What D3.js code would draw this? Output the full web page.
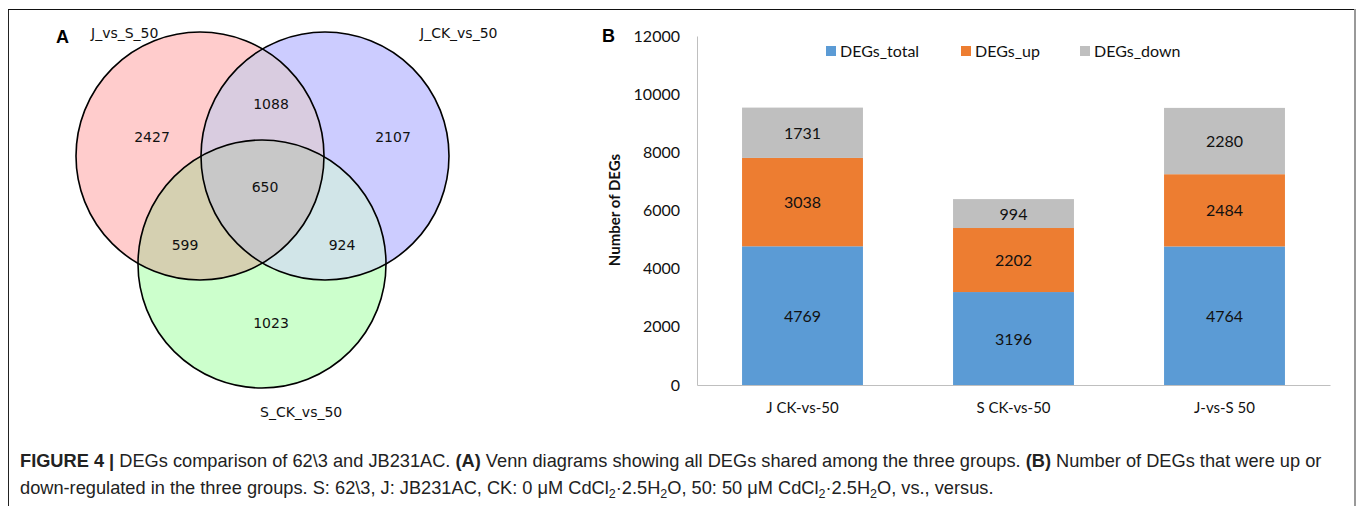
<!DOCTYPE html>
<html>
<head>
<meta charset="utf-8">
<title>Figure 4</title>
<style>
  body { margin: 0; background: #fff; }
  svg { display: block; }
</style>
<script src="https://d3js.org/d3.v7.min.js"></script>
</head>
<body>
<svg id="fig" width="1360" height="506"></svg>
<script>
// ---- data ----
var vennSets = ["J_vs_S_50", "J_CK_vs_50", "S_CK_vs_50"];
var vennOnly = [2427, 2107, 1023];          // A only, B only, C only
var vennPairs = [1088, 599, 924];           // AB, AC, BC
var vennAll = 650;

var categories = ["J CK-vs-50", "S CK-vs-50", "J-vs-S 50"];
var degsTotal = [4769, 3196, 4764];
var degsUp = [3038, 2202, 2484];
var degsDown = [1731, 994, 2280];
var seriesNames = ["DEGs_total", "DEGs_up", "DEGs_down"];
var yTicks = [0, 2000, 4000, 6000, 8000, 10000, 12000];

var svg = d3.select("#fig");

// frame
svg.append("line").attr("x1", 8.5).attr("y1", 9).attr("x2", 8.5).attr("y2", 506).attr("stroke", "#222");
svg.append("line").attr("x1", 8).attr("y1", 9.5).attr("x2", 1355).attr("y2", 9.5).attr("stroke", "#111");
svg.append("line").attr("x1", 1355).attr("y1", 9).attr("x2", 1355).attr("y2", 506).attr("stroke", "#999").attr("stroke-width", 2);

// ---- panel A : venn ----
var r = 124;
var circles = [
  {cx: 200, cy: 156, fill: "#ffcccc"},
  {cx: 325, cy: 156, fill: "#ccccff"},
  {cx: 262, cy: 264, fill: "#ccffcc"}
];
var defs = svg.append("defs");
circles.forEach(function(c, i) {
  defs.append("clipPath").attr("id", "clip" + i)
    .append("circle").attr("cx", c.cx).attr("cy", c.cy).attr("r", r);
});
// nested clip for the triple region
defs.append("clipPath").attr("id", "clipAB")
  .attr("clip-path", "url(#clip0)")
  .append("circle").attr("cx", circles[1].cx).attr("cy", circles[1].cy).attr("r", r);

var venn = svg.append("g");
circles.forEach(function(c) {
  venn.append("circle").attr("cx", c.cx).attr("cy", c.cy).attr("r", r).attr("fill", c.fill);
});
// pair overlaps
venn.append("circle").attr("cx", circles[1].cx).attr("cy", circles[1].cy).attr("r", r)
  .attr("clip-path", "url(#clip0)").attr("fill", "#d9cce0");
venn.append("circle").attr("cx", circles[2].cx).attr("cy", circles[2].cy).attr("r", r)
  .attr("clip-path", "url(#clip0)").attr("fill", "#d5d0b1");
venn.append("circle").attr("cx", circles[2].cx).attr("cy", circles[2].cy).attr("r", r)
  .attr("clip-path", "url(#clip1)").attr("fill", "#d1e5e8");
var tri = venn.append("g").attr("clip-path", "url(#clipAB)");
tri.append("circle").attr("cx", circles[2].cx).attr("cy", circles[2].cy).attr("r", r)
  .attr("clip-path", "url(#clip2)").attr("fill", "#c8c8c8");
circles.forEach(function(c) {
  venn.append("circle").attr("cx", c.cx).attr("cy", c.cy).attr("r", r)
    .attr("fill", "none").attr("stroke", "#000").attr("stroke-width", 1.6);
});

var vennFont = "'DejaVu Sans', sans-serif";
var setLabelPos = [[91, 38], [420, 38], [260, 417]];
vennSets.forEach(function(s, i) {
  svg.append("text").attr("x", setLabelPos[i][0]).attr("y", setLabelPos[i][1])
    .attr("font-family", vennFont).attr("font-size", 14).attr("fill", "#111").text(s);
});
var onlyPos = [[152, 137], [393, 137], [271, 323]];
var pairPos = [[271, 104], [185, 245], [342, 245]];
function vennNum(p, v) {
  svg.append("text").attr("x", p[0]).attr("y", p[1] + 5).attr("text-anchor", "middle")
    .attr("font-family", vennFont).attr("font-size", 14).attr("fill", "#111").text(v);
}
vennOnly.forEach(function(v, i) { vennNum(onlyPos[i], v); });
vennPairs.forEach(function(v, i) { vennNum(pairPos[i], v); });
vennNum([265, 187], vennAll);

svg.append("text").attr("x", 56).attr("y", 43).attr("font-family", "'Liberation Sans', Arial, sans-serif")
  .attr("font-weight", "bold").attr("font-size", 18).text("A");

// ---- panel B : stacked bars ----
var chartFont = "Lato, 'Open Sans', sans-serif";
svg.append("text").attr("x", 602).attr("y", 42).attr("font-family", "'Liberation Sans', Arial, sans-serif")
  .attr("font-weight", "bold").attr("font-size", 18).text("B");

var y = d3.scaleLinear().domain([0, 12000]).range([385, 36]);
var x = d3.scaleBand().domain(categories).range([697, 1330]).paddingInner(0.427).paddingOuter(0.2135);
var color = d3.scaleOrdinal().domain(seriesNames).range(["#5b9bd5", "#ed7d31", "#bfbfbf"]);

var rows = categories.map(function(c, i) {
  return {cat: c, DEGs_total: degsTotal[i], DEGs_up: degsUp[i], DEGs_down: degsDown[i]};
});
var stacked = d3.stack().keys(seriesNames)(rows);

var gB = svg.append("g");
stacked.forEach(function(layer) {
  gB.append("g").selectAll("rect").data(layer).join("rect")
    .attr("x", function(d) { return x(d.data.cat); })
    .attr("width", x.bandwidth())
    .attr("y", function(d) { return y(d[1]); })
    .attr("height", function(d) { return y(d[0]) - y(d[1]); })
    .attr("fill", color(layer.key));
  gB.append("g").selectAll("text").data(layer).join("text")
    .attr("x", function(d) { return x(d.data.cat) + x.bandwidth() / 2; })
    .attr("y", function(d) { return (y(d[0]) + y(d[1])) / 2 + 6; })
    .attr("text-anchor", "middle").attr("font-family", chartFont).attr("font-size", 16)
    .attr("fill", "#111")
    .text(function(d) { return d[1] - d[0]; });
});

// y axis
var yAxis = gB.append("g").attr("transform", "translate(697,0)")
  .call(d3.axisLeft(y).tickValues(yTicks).tickFormat(d3.format("d")).tickSize(0).tickPadding(17));
yAxis.select(".domain").attr("stroke", "#bfbfbf");
yAxis.selectAll("text").attr("font-family", chartFont).attr("font-size", 16).attr("fill", "#111");

// x axis
var xAxis = gB.append("g").attr("transform", "translate(0,385)")
  .call(d3.axisBottom(x).tickSize(0).tickPadding(17));
xAxis.select(".domain").attr("stroke", "#bfbfbf");
xAxis.selectAll("text").attr("font-family", chartFont).attr("font-size", 15).attr("fill", "#111");

gB.append("text").attr("transform", "translate(620,210) rotate(-90)").attr("text-anchor", "middle")
  .attr("font-family", chartFont).attr("font-weight", "bold").attr("font-size", 15).attr("fill", "#111")
  .text("Number of DEGs");

// legend
var legX = [826, 961, 1080];
seriesNames.forEach(function(s, i) {
  gB.append("rect").attr("x", legX[i]).attr("y", 46).attr("width", 10).attr("height", 10).attr("fill", color(s));
  gB.append("text").attr("x", legX[i] + 14).attr("y", 57).attr("font-family", chartFont)
    .attr("font-size", 16).attr("fill", "#111").text(s);
});

// ---- caption (condensed type) ----
var capFont = "'Liberation Sans', Arial, sans-serif";
var capSize = 17.5;
var cap = svg.append("g");
var cap1 = cap.append("text").attr("x", 0).attr("y", 467).attr("font-family", capFont)
  .attr("font-size", capSize).attr("fill", "#222");
cap1.append("tspan").attr("font-weight", "bold").text("FIGURE 4 | ");
cap1.append("tspan").text("DEGs comparison of 62\\3 and JB231AC. ");
cap1.append("tspan").attr("font-weight", "bold").text("(A)");
cap1.append("tspan").text(" Venn diagrams showing all DEGs shared among the three groups. ");
cap1.append("tspan").attr("font-weight", "bold").text("(B)");
cap1.append("tspan").text(" Number of DEGs that were up or");

var cap2 = cap.append("text").attr("x", 0).attr("y", 494).attr("font-family", capFont)
  .attr("font-size", capSize).attr("fill", "#222");
var parts = [
  ["down-regulated in the three groups. S: 62\\3, J: JB231AC, CK: 0 \u03bcM CdCl", false],
  ["2", true], ["\u00b72.5H", false], ["2", true],
  ["O, 50: 50 \u03bcM CdCl", false], ["2", true], ["\u00b72.5H", false], ["2", true],
  ["O, vs., versus.", false]
];
var prevSub = false;
parts.forEach(function(p) {
  var t = cap2.append("tspan").text(p[0]);
  if (p[1]) t.attr("font-size", 12).attr("dy", 4);
  else if (prevSub) t.attr("dy", -4);
  prevSub = p[1];
});

var l1 = cap1.node().getComputedTextLength();
var sx = 1302 / l1;
cap.attr("transform", "translate(20,0) scale(" + sx + ",1)");
</script>
</body>
</html>
